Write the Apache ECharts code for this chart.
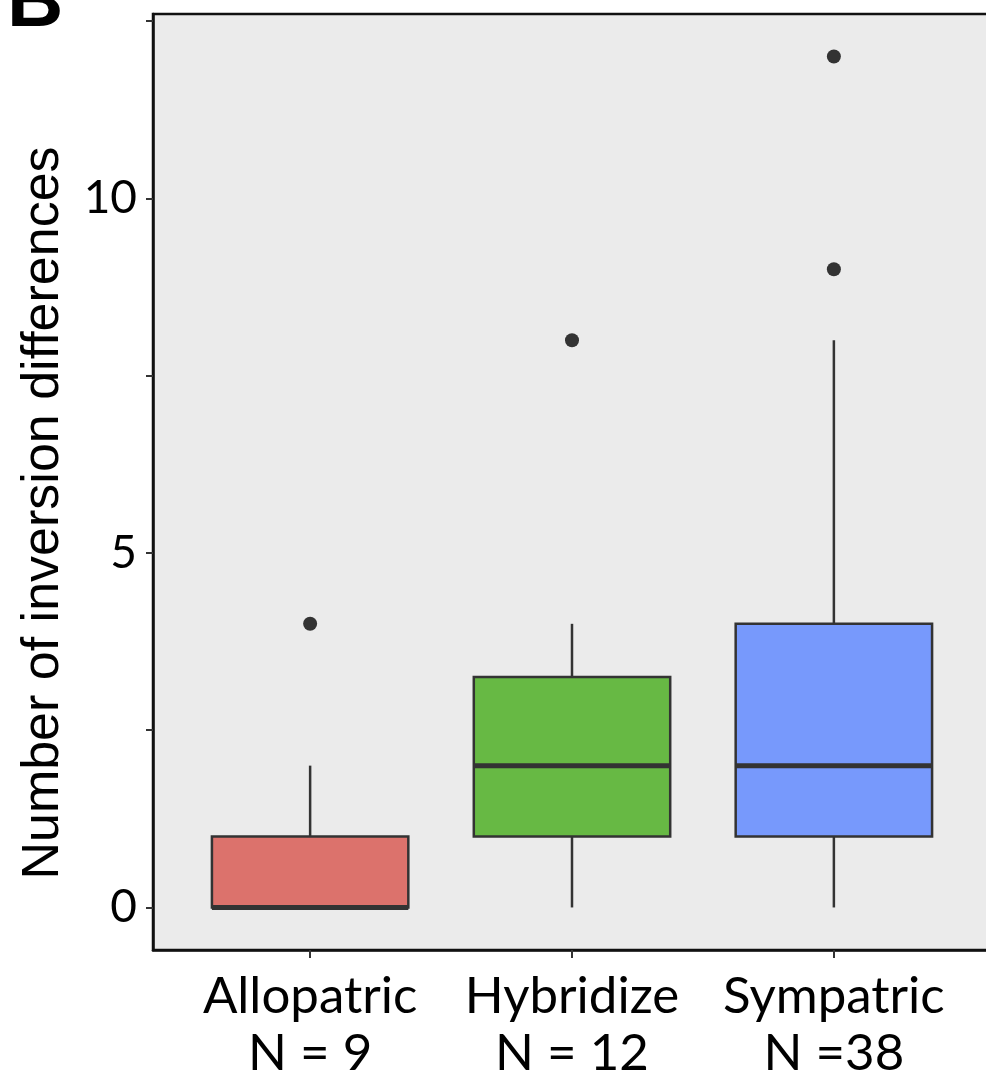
<!DOCTYPE html>
<html><head><meta charset="utf-8">
<script src="https://cdn.jsdelivr.net/npm/echarts@6/dist/echarts.min.js"></script>
<style>html,body{margin:0;padding:0;background:#fff;overflow:hidden;width:986px;height:1089px}#c{width:1000px;height:1089px}</style>
</head><body><div id="c"></div>
<script>
const categories = ['Allopatric', 'Hybridize', 'Sympatric'];
const sampleSizes = ['N = 9', 'N = 12', 'N =38'];
const whiskerLow = [0, 0, 0];
const q1 = [0, 1, 1];
const median = [0, 2, 2];
const q3 = [1, 3.25, 4];
const whiskerHigh = [2, 4, 8];
const outliers = [[1, 4], [2, 8], [3, 9], [3, 12]];
const boxColors = ['#DC726C', '#67B944', '#7799FC'];
const yTicks = [0, 2.5, 5, 7.5, 10, 12.5];
const yLabels = [0, 5, 10];

const FONT = 'Lato';
const TITLE_FONT = 'Liberation Sans';
const chart = echarts.init(document.getElementById('c'), null, {renderer: 'canvas'});

const boxData = categories.map((c, i) => [i + 1, whiskerLow[i], q1[i], median[i], q3[i], whiskerHigh[i]]);

chart.setOption({
  backgroundColor: '#ffffff',
  animation: false,
  grid: {left: 153, top: 14, width: 838, bottom: 139, show: true, backgroundColor: '#EBEBEB', borderColor: '#111', borderWidth: 2.5},
  xAxis: {
    type: 'value', min: 0.4, max: 3.6,
    splitLine: {show: false},
    axisLine: {show: true, onZero: false, lineStyle: {color: '#111', width: 2.5}},
    axisTick: {show: true, length: 8, customValues: [1, 2, 3], lineStyle: {color: '#333', width: 2}},
    axisLabel: {customValues: [1, 2, 3], margin: 18, color: '#000', fontFamily: FONT, fontSize: 51, lineHeight: 57,
      formatter: v => categories[Math.round(v) - 1] + '\n' + sampleSizes[Math.round(v) - 1]}
  },
  yAxis: {
    type: 'value', min: -0.6, max: 12.6,
    splitLine: {show: false},
    axisLine: {show: true, onZero: false, lineStyle: {color: '#111', width: 2.5}},
    axisTick: {show: true, length: 7, customValues: yTicks, lineStyle: {color: '#333', width: 2}},
    axisLabel: {customValues: yLabels, margin: 16, color: '#000', fontFamily: FONT, fontSize: 46}
  },
  graphic: [
    {type: 'text', x: 44, y: 513, rotation: Math.PI / 2,
     style: {text: 'Number of inversion differences', fontFamily: TITLE_FONT, fontSize: 52, fill: '#000', align: 'center', verticalAlign: 'middle'}},
    {type: 'text', x: 7, y: 4, style: {text: 'B', fontFamily: TITLE_FONT, fontWeight: 'bold', fontSize: 78, fill: '#000', align: 'left', verticalAlign: 'middle'}}
  ],
  series: [
    {
      type: 'custom',
      data: boxData,
      renderItem: function (params, api) {
        const x = api.value(0);
        const half = 0.375;
        const i = params.dataIndex;
        const pLo = api.coord([x, api.value(1)]);
        const pQ1 = api.coord([x, api.value(2)]);
        const pMed = api.coord([x, api.value(3)]);
        const pQ3 = api.coord([x, api.value(4)]);
        const pHi = api.coord([x, api.value(5)]);
        const xl = api.coord([x - half, 0])[0];
        const xr = api.coord([x + half, 0])[0];
        const stroke = '#333333';
        return {
          type: 'group',
          children: [
            {type: 'line', shape: {x1: pLo[0], y1: pLo[1], x2: pQ1[0], y2: pQ1[1]}, style: {stroke, lineWidth: 2.5}},
            {type: 'line', shape: {x1: pQ3[0], y1: pQ3[1], x2: pHi[0], y2: pHi[1]}, style: {stroke, lineWidth: 2.5}},
            {type: 'rect', shape: {x: xl, y: pQ3[1], width: xr - xl, height: pQ1[1] - pQ3[1]}, style: {fill: boxColors[i], stroke, lineWidth: 2.5}},
            {type: 'line', shape: {x1: xl, y1: pMed[1], x2: xr, y2: pMed[1]}, style: {stroke, lineWidth: 5}}
          ]
        };
      }
    },
    {
      type: 'scatter', data: outliers, symbol: 'circle', symbolSize: 14,
      itemStyle: {color: '#333333', opacity: 1}
    }
  ]
});
</script></body></html>
